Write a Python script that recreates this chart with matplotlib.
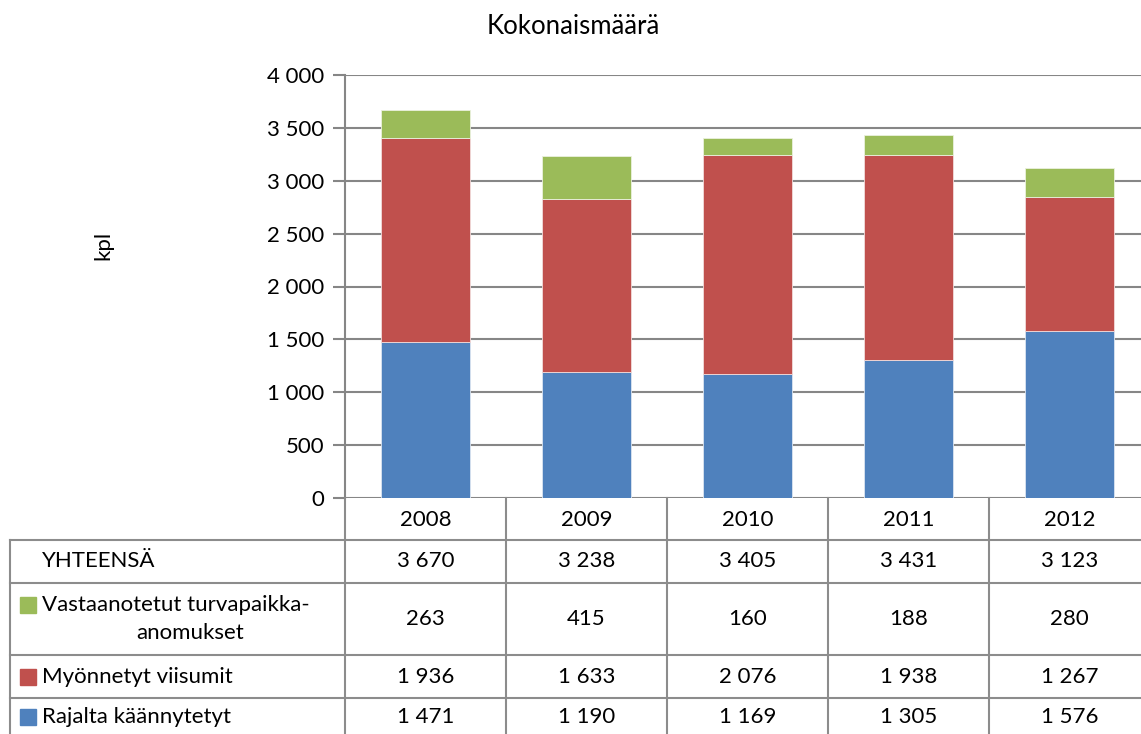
import matplotlib.pyplot as plt
import matplotlib.transforms as mtransforms
from matplotlib.lines import Line2D
from matplotlib.patches import Rectangle

plt.rcParams['font.family'] = ['Lato', 'DejaVu Sans']

years = ['2008', '2009', '2010', '2011', '2012']
rajalta = [1471, 1190, 1169, 1305, 1576]
viisumit = [1936, 1633, 2076, 1938, 1267]
turvapaikka = [263, 415, 160, 188, 280]
yhteensa = [3670, 3238, 3405, 3431, 3123]

c_blue = '#4F81BD'
c_red = '#C0504D'
c_green = '#9BBB59'
c_grid = '#868686'

W, H = 1141, 734
FS = 16


def fx(x):
    return x / W


def fy(y):
    return 1 - y / H


def fmt(v):
    return '{:,}'.format(v).replace(',', ' ')


fig = plt.figure(figsize=(W / 100, H / 100), dpi=100)
ax = fig.add_axes([fx(345), fy(498), (1150 - 345) / W, (498 - 75) / H])

x = list(range(len(years)))
bw = 0.55
ax.bar(x, rajalta, bw, color=c_blue, edgecolor='#dbe5f1', linewidth=0.6, zorder=3)
bottom2 = rajalta
ax.bar(x, viisumit, bw, bottom=bottom2, color=c_red, edgecolor='#f2dcdb', linewidth=0.6, zorder=3)
bottom3 = [a + b for a, b in zip(rajalta, viisumit)]
ax.bar(x, turvapaikka, bw, bottom=bottom3, color=c_green, edgecolor='#ebf1de', linewidth=0.6, zorder=3)

ax.set_xlim(-0.5, len(years) - 0.5)
ax.set_ylim(0, 4000)
ax.set_yticks(range(0, 4001, 500))
ax.set_yticklabels([fmt(v) for v in range(0, 4001, 500)], fontsize=FS)
ax.set_xticks([])
ax.yaxis.grid(True, color=c_grid, linewidth=1.5, zorder=0)
ax.tick_params(axis='y', length=9, width=1.5, color=c_grid, pad=6)
for s in ['top', 'right', 'bottom']:
    ax.spines[s].set_visible(False)
ax.spines['left'].set_color(c_grid)
ax.spines['left'].set_linewidth(1.5)
ax.set_axisbelow(True)

fig.text(fx(573), fy(27), 'Kokonaismäärä', ha='center', va='center', fontsize=18.5)
fig.text(fx(103), fy(245), 'kpl', ha='center', va='center', rotation=90, fontsize=FS)

# data table below the plot
lc = '#8c8c8c'
lw = 1.5


def hline(y, x0, x1):
    fig.add_artist(Line2D([fx(x0), fx(x1)], [fy(y), fy(y)], color=lc, linewidth=lw))


def vline(x0, y0, y1):
    fig.add_artist(Line2D([fx(x0), fx(x0)], [fy(y0), fy(y1)], color=lc, linewidth=lw))


for y in [540, 583, 655, 698]:
    hline(y, 10, W)
vline(10, 540, H)
vline(345, 498, H)
for b in [506, 667, 828, 989]:
    vline(b, 498, H)

trans = mtransforms.blended_transform_factory(ax.transData, fig.transFigure)
rows = [(520, years), (561, [fmt(v) for v in yhteensa]),
        (619, [str(v) for v in turvapaikka]),
        (677, [fmt(v) for v in viisumit]),
        (717, [fmt(v) for v in rajalta])]
for ypix, vals in rows:
    for i, v in enumerate(vals):
        fig.text(i, fy(ypix), v, transform=trans, ha='center', va='center', fontsize=FS)

fig.text(fx(42), fy(561), 'YHTEENSÄ', ha='left', va='center', fontsize=FS)
fig.text(fx(42), fy(605), 'Vastaanotetut turvapaikka-', ha='left', va='center', fontsize=FS)
fig.text(fx(190), fy(633), 'anomukset', ha='center', va='center', fontsize=FS)
fig.text(fx(42), fy(677), 'Myönnetyt viisumit', ha='left', va='center', fontsize=FS)
fig.text(fx(42), fy(717), 'Rajalta käännytetyt', ha='left', va='center', fontsize=FS)

for ypix, col in [(605, c_green), (677, c_red), (717, c_blue)]:
    fig.add_artist(Rectangle((fx(20), fy(ypix + 8)), 16 / W, 16 / H,
                             transform=fig.transFigure, color=col))

fig.savefig('out.png', dpi=100)
